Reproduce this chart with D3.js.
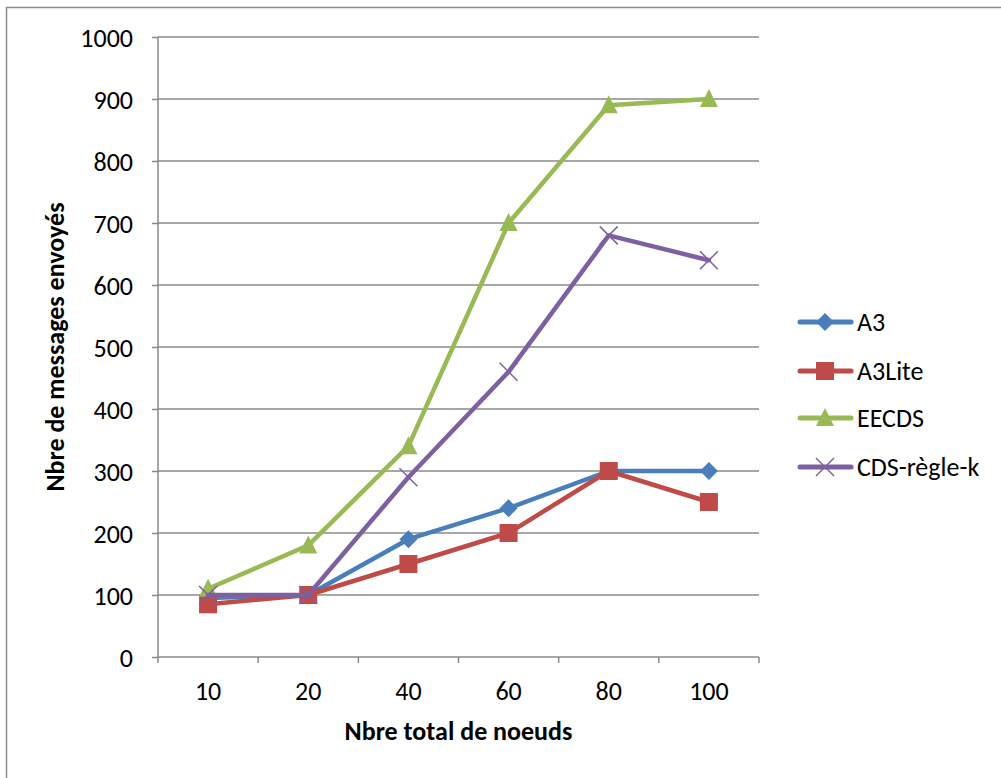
<!DOCTYPE html>
<html><head><meta charset="utf-8">
<script src="https://cdn.jsdelivr.net/npm/d3@7"></script>
<style>body{margin:0;background:#fff}svg{display:block}text{font-family:Carlito,"Open Sans","Liberation Sans",sans-serif}</style>
</head><body>
<svg id="c" width="1001" height="778"></svg>
<script>
const categories = ["10","20","40","60","80","100"];
const seriesNames = ["A3","A3Lite","EECDS","CDS-règle-k"];
const a3 = [95,100,190,240,300,300];
const a3lite = [85,100,150,200,300,250];
const eecds = [110,180,340,700,890,900];
const cdsRegleK = [100,100,290,460,680,640];
const yTicks = [0,100,200,300,400,500,600,700,800,900,1000];
const colors = ["#4A7EBB","#BE4B48","#98B954","#7D60A0"];
const markers = ["diamond","square","triangle","x"];
const seriesData = [a3,a3lite,eecds,cdsRegleK];
const FS = 26;

const svg = d3.select("#c");
svg.append("rect").attr("x",6.5).attr("y",7.5).attr("width",1100).attr("height",900)
  .attr("fill","none").attr("stroke","#8c8c8c").attr("stroke-width",1.5);

const L=158,R=759,T=37,B=657;
const x = d3.scaleBand().domain(categories).range([L,R]);
const y = d3.scaleLinear().domain([0,1000]).range([B,T]);
const grid="#8a8a8a";

svg.append("g").selectAll("line").data(yTicks.filter(d=>d>0)).join("line")
  .attr("x1",L).attr("x2",R).attr("y1",d=>y(d)).attr("y2",d=>y(d))
  .attr("stroke",grid).attr("stroke-width",1.5);

const ya = svg.append("g").attr("transform",`translate(${L},0)`)
  .call(d3.axisLeft(y).tickValues(yTicks).tickFormat(d3.format("d")).tickSize(6).tickPadding(19));
ya.select(".domain").attr("stroke",grid).attr("stroke-width",1.5).attr("d",`M0,${T}V${B}`);
ya.selectAll(".tick line").attr("stroke",grid).attr("stroke-width",1.5);
ya.selectAll("text").attr("font-size",FS).attr("fill","#000").attr("dy","0.35em");

const xa = svg.append("g").attr("transform",`translate(0,${B})`)
  .call(d3.axisBottom(x).tickSize(0));
xa.select(".domain").attr("stroke",grid).attr("stroke-width",1.5).attr("d",`M${L},0H${R}`);
xa.selectAll("text").attr("font-size",FS).attr("fill","#000").attr("y",43).attr("dy",0);
const bounds = categories.map(c=>x(c)).concat([R]);
xa.append("g").selectAll("line").data(bounds).join("line")
  .attr("x1",d=>d).attr("x2",d=>d).attr("y1",0).attr("y2",6)
  .attr("stroke",grid).attr("stroke-width",1.5);

const cx = c => x(c)+x.bandwidth()/2;

function drawMarker(g, type, color){
  if(type==="diamond") g.append("path").attr("d","M0,-9L9,0L0,9L-9,0Z").attr("fill",color);
  else if(type==="square") g.append("rect").attr("x",-9).attr("y",-9).attr("width",18).attr("height",18).attr("fill",color);
  else if(type==="triangle") g.append("path").attr("d","M0,-10L9,8L-9,8Z").attr("fill",color);
  else g.append("path").attr("d","M-9,-9L9,9M-9,9L9,-9").attr("stroke",color).attr("stroke-width",1.5).attr("fill","none");
}

const line = d3.line().x((d,i)=>cx(categories[i])).y(d=>y(d));
seriesData.forEach((s,k)=>{
  svg.append("path").attr("d",line(s)).attr("fill","none").attr("stroke",colors[k])
    .attr("stroke-width",4.5).attr("stroke-linejoin","round").attr("stroke-linecap","round");
  s.forEach((v,i)=>{
    const g=svg.append("g").attr("transform",`translate(${cx(categories[i])},${y(v)})`);
    drawMarker(g,markers[k],colors[k]);
  });
});

const legY=[322,371,418,467];
seriesNames.forEach((n,k)=>{
  const g=svg.append("g").attr("transform",`translate(0,${legY[k]})`);
  g.append("line").attr("x1",800).attr("x2",851).attr("y1",0).attr("y2",0)
    .attr("stroke",colors[k]).attr("stroke-width",5).attr("stroke-linecap","round");
  const mg=g.append("g").attr("transform","translate(825,0)");
  drawMarker(mg,markers[k],colors[k]);
  g.append("text").attr("x",857).attr("y",0).attr("dy","0.35em").attr("font-size",FS).text(n);
});

svg.append("text").attr("x",(L+R)/2).attr("y",740).attr("text-anchor","middle")
  .attr("font-size",FS).attr("font-weight","bold").text("Nbre total de noeuds");
svg.append("text").attr("transform",`translate(64,${(T+B)/2}) rotate(-90)`).attr("text-anchor","middle")
  .attr("font-size",FS).attr("font-weight","bold").text("Nbre de messages envoyés");
</script>
</body></html>
